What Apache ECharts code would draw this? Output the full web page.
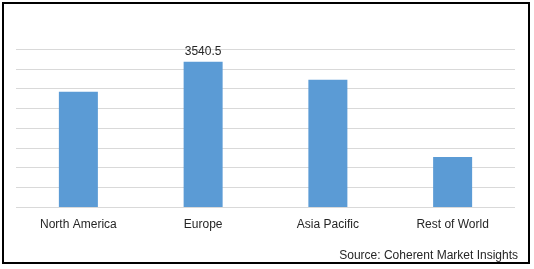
<!DOCTYPE html>
<html>
<head>
<meta charset="utf-8">
<script src="https://cdn.jsdelivr.net/npm/echarts@6/dist/echarts.min.js"></script>
<style>html,body{margin:0;padding:0;background:#fff}#c{width:534px;height:269px}</style>
</head>
<body>
<div id="c"></div>
<script>
const categories = ["North America", "Europe", "Asia Pacific", "Rest of World"];
const values = [2808, 3540.5, 3101, 1221];
const labelledIndex = 1;
const sourceText = "Source: Coherent Market Insights";

const chart = echarts.init(document.getElementById('c'), null, {renderer: 'canvas'});
chart.setOption({
  animation: false,
  backgroundColor: '#ffffff',
  grid: {left: 16, right: 19, top: 49, height: 158},
  xAxis: {
    type: 'category',
    data: categories,
    axisLine: {show: false},
    axisTick: {show: false},
    axisLabel: {color: '#262626', fontFamily: 'Liberation Sans', fontSize: 12, margin: 12}
  },
  yAxis: {
    type: 'value',
    min: 0, max: 3850, interval: 481.25,
    axisLabel: {show: false},
    axisLine: {show: false},
    axisTick: {show: false},
    splitLine: {lineStyle: {color: '#D9D9D9', width: 1}}
  },
  series: [{
    type: 'bar',
    barWidth: 39,
    itemStyle: {color: '#5B9BD5'},
    data: values.map((v, i) => i === labelledIndex ? {
      value: v,
      label: {show: true, position: 'top', distance: 4, color: '#262626', fontFamily: 'Liberation Sans', fontSize: 12}
    } : v)
  }],
  graphic: [
    {type: 'rect', shape: {x: 3, y: 3, width: 526, height: 260}, style: {fill: 'none', stroke: '#000', lineWidth: 2}, silent: true},
    {type: 'text', right: 16, top: 250, style: {text: sourceText, fill: '#262626', font: '12px "Liberation Sans"'}}
  ]
});
</script>
</body>
</html>
